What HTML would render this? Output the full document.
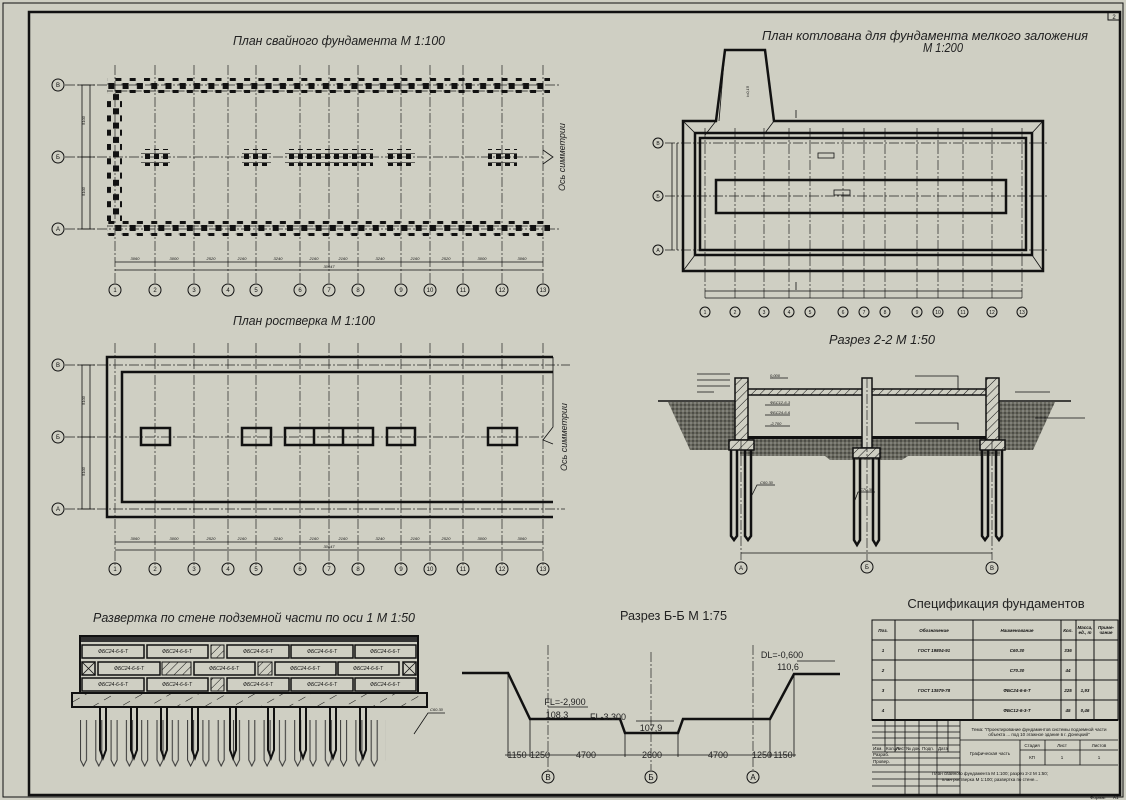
<!DOCTYPE html>
<html><head><meta charset="utf-8"><style>
html,body{margin:0;padding:0;background:#cfcfc3;}
svg{display:block;font-family:"Liberation Sans","DejaVu Sans",sans-serif;}
.t{font-style:italic;font-size:13px;fill:#222;}
.s{font-size:4px;fill:#111;font-style:italic;}
.ax{fill:none;stroke:#111;stroke-width:1;}
.c{fill:#111;font-size:6px;text-anchor:middle;}
.dd{stroke:#222;stroke-width:0.7;stroke-dasharray:10 2 2 2;fill:none;}
.tk{stroke:#111;stroke-width:2.5;fill:none;}
.th{stroke:#111;stroke-width:0.8;fill:none;}
</style></head><body>
<svg width="1126" height="800" viewBox="0 0 1126 800" xmlns="http://www.w3.org/2000/svg">
<defs>
<pattern id="pr" width="14.3" height="15" patternUnits="userSpaceOnUse">
<rect x="1" y="0" width="6" height="6" fill="#111"/><line x1="0" y1="1" x2="13" y2="1" stroke="#111" stroke-width="0.7"/>
<rect x="8.2" y="8" width="6" height="6" fill="#111"/><line x1="7" y1="9" x2="14" y2="9" stroke="#111" stroke-width="0.7"/>
</pattern>
<pattern id="pc" width="15" height="14.3" patternUnits="userSpaceOnUse">
<rect x="0" y="1" width="6" height="6" fill="#111"/><rect x="8" y="8.2" width="6" height="6" fill="#111"/>
</pattern>
<pattern id="cl" width="9" height="9" patternUnits="userSpaceOnUse">
<rect x="1" y="1" width="5" height="5" fill="#111"/><line x1="0" y1="0.5" x2="9" y2="0.5" stroke="#111" stroke-width="0.6"/>
</pattern>
<pattern id="soil" width="4" height="4" patternUnits="userSpaceOnUse">
<rect width="4" height="4" fill="#6a6a60"/><circle cx="1" cy="1" r="0.7" fill="#222"/><circle cx="3" cy="3" r="0.6" fill="#bbb"/>
</pattern>
<pattern id="hat" width="6" height="6" patternUnits="userSpaceOnUse" patternTransform="rotate(45)">
<rect width="6" height="6" fill="#cfcfc3"/><line x1="0" y1="0" x2="0" y2="6" stroke="#111" stroke-width="1"/>
</pattern>
<pattern id="hat2" width="14" height="14" patternUnits="userSpaceOnUse" patternTransform="rotate(60)">
<rect width="14" height="14" fill="#c6c6ba"/><line x1="0" y1="0" x2="0" y2="8" stroke="#111" stroke-width="1"/>
</pattern>
<pattern id="pl" width="15.3" height="60" patternUnits="userSpaceOnUse">
<path d="M4 0 V40 L7 46 L10 40 V0" fill="none" stroke="#333" stroke-width="1"/>
</pattern>
</defs>
<rect width="1126" height="800" fill="#cfcfc3"/>
<rect x="3" y="3" width="1120" height="794" fill="none" stroke="#111" stroke-width="1"/>
<rect x="29" y="12" width="1091" height="783" fill="none" stroke="#111" stroke-width="2.5"/>
<rect x="1108" y="12" width="12" height="8" fill="none" stroke="#111" stroke-width="1"/>
<text x="1114" y="19" class="c">2</text>

<!-- ============ PLAN 1 ============ -->
<text x="233" y="45" class="t" textLength="212" lengthAdjust="spacingAndGlyphs">План свайного фундамента М 1:100</text>
<g class="dd">
<path d="M115 65V285M155 65V285M194 65V285M228 65V285M256 65V285M300 65V285M329 65V285M358 65V285M401 65V285M430 65V285M463 65V285M502 65V285M543 65V285"/>
<path d="M65 85H560M65 157H545M65 229H560"/>
</g>
<rect x="107" y="78" width="443" height="15" fill="url(#pr)"/>
<rect x="107" y="221" width="443" height="15" fill="url(#pr)"/>
<rect x="107" y="93" width="15" height="128" fill="url(#pc)"/>
<g>
<rect x="141" y="149" width="29" height="17" fill="url(#cl)"/>
<rect x="242" y="149" width="29" height="17" fill="url(#cl)"/>
<rect x="285" y="149" width="88" height="17" fill="url(#cl)"/>
<rect x="387" y="149" width="28" height="17" fill="url(#cl)"/>
<rect x="488" y="149" width="29" height="17" fill="url(#cl)"/>
</g>
<path d="M543 150 L553 157 L543 164" class="th"/>
<text x="565" y="157" font-size="9" font-style="italic" fill="#222" transform="rotate(-90 565 157)" text-anchor="middle">Ось симметрии</text>
<g class="th"><path d="M82 85V229M90 85V229M78 85H95M78 157H95M78 229H95M115 262H543M115 270H543"/></g>
<text x="85" y="125" class="s" transform="rotate(-90 85 125)">5100</text>
<text x="85" y="196" class="s" transform="rotate(-90 85 196)">5100</text>
<g class="s" text-anchor="middle"><text x="135" y="260">3060</text><text x="174" y="260">3000</text><text x="211" y="260">2520</text><text x="242" y="260">2160</text><text x="278" y="260">3240</text><text x="314" y="260">2160</text><text x="343" y="260">2160</text><text x="380" y="260">3240</text><text x="415" y="260">2160</text><text x="446" y="260">2520</text><text x="482" y="260">3000</text><text x="522" y="260">3060</text><text x="329" y="268">30647</text></g>
<g class="ax"><circle cx="58" cy="85" r="6"/><circle cx="58" cy="157" r="6"/><circle cx="58" cy="229" r="6"/></g>
<g class="c"><text x="58" y="87">В</text><text x="58" y="159">Б</text><text x="58" y="231">А</text></g>
<g class="ax"><circle cx="115" cy="290" r="6"/><circle cx="155" cy="290" r="6"/><circle cx="194" cy="290" r="6"/><circle cx="228" cy="290" r="6"/><circle cx="256" cy="290" r="6"/><circle cx="300" cy="290" r="6"/><circle cx="329" cy="290" r="6"/><circle cx="358" cy="290" r="6"/><circle cx="401" cy="290" r="6"/><circle cx="430" cy="290" r="6"/><circle cx="463" cy="290" r="6"/><circle cx="502" cy="290" r="6"/><circle cx="543" cy="290" r="6"/></g>
<g class="c"><text x="115" y="292">1</text><text x="155" y="292">2</text><text x="194" y="292">3</text><text x="228" y="292">4</text><text x="256" y="292">5</text><text x="300" y="292">6</text><text x="329" y="292">7</text><text x="358" y="292">8</text><text x="401" y="292">9</text><text x="430" y="292">10</text><text x="463" y="292">11</text><text x="502" y="292">12</text><text x="543" y="292">13</text></g>

<!-- ============ PLAN 2 ============ -->
<text x="233" y="325" class="t" textLength="142" lengthAdjust="spacingAndGlyphs">План ростверка М 1:100</text>
<g class="dd">
<path d="M115 343V565M155 343V565M194 343V565M228 343V565M256 343V565M300 343V565M329 343V565M358 343V565M401 343V565M430 343V565M463 343V565M502 343V565M543 343V565"/>
<path d="M65 365H570M65 437H545M65 509H565"/>
</g>
<path d="M553 357H107V517H553M553 372H122V502H553" class="tk" stroke-width="2"/>
<g class="tk" stroke-width="3"><rect x="141" y="428" width="29" height="17"/><rect x="242" y="428" width="29" height="17"/><rect x="285" y="428" width="88" height="17"/><line x1="314" y1="428" x2="314" y2="445"/><line x1="343" y1="428" x2="343" y2="445"/><rect x="387" y="428" width="28" height="17"/><rect x="488" y="428" width="29" height="17"/></g>
<path d="M553 357V427L543 440L553 444" class="th"/>
<text x="567" y="437" font-size="9" font-style="italic" fill="#222" transform="rotate(-90 567 437)" text-anchor="middle">Ось симметрии</text>
<g class="th"><path d="M82 365V509M90 365V509M78 365H95M78 437H95M78 509H95M115 542H543M115 550H543"/></g>
<text x="85" y="405" class="s" transform="rotate(-90 85 405)">5100</text>
<text x="85" y="476" class="s" transform="rotate(-90 85 476)">5100</text>
<g class="s" text-anchor="middle"><text x="135" y="540">3060</text><text x="174" y="540">3000</text><text x="211" y="540">2520</text><text x="242" y="540">2160</text><text x="278" y="540">3240</text><text x="314" y="540">2160</text><text x="343" y="540">2160</text><text x="380" y="540">3240</text><text x="415" y="540">2160</text><text x="446" y="540">2520</text><text x="482" y="540">3000</text><text x="522" y="540">3060</text><text x="329" y="548">30647</text></g>
<g class="ax"><circle cx="58" cy="365" r="6"/><circle cx="58" cy="437" r="6"/><circle cx="58" cy="509" r="6"/></g>
<g class="c"><text x="58" y="367">В</text><text x="58" y="439">Б</text><text x="58" y="511">А</text></g>
<g class="ax"><circle cx="115" cy="569" r="6"/><circle cx="155" cy="569" r="6"/><circle cx="194" cy="569" r="6"/><circle cx="228" cy="569" r="6"/><circle cx="256" cy="569" r="6"/><circle cx="300" cy="569" r="6"/><circle cx="329" cy="569" r="6"/><circle cx="358" cy="569" r="6"/><circle cx="401" cy="569" r="6"/><circle cx="430" cy="569" r="6"/><circle cx="463" cy="569" r="6"/><circle cx="502" cy="569" r="6"/><circle cx="543" cy="569" r="6"/></g>
<g class="c"><text x="115" y="571">1</text><text x="155" y="571">2</text><text x="194" y="571">3</text><text x="228" y="571">4</text><text x="256" y="571">5</text><text x="300" y="571">6</text><text x="329" y="571">7</text><text x="358" y="571">8</text><text x="401" y="571">9</text><text x="430" y="571">10</text><text x="463" y="571">11</text><text x="502" y="571">12</text><text x="543" y="571">13</text></g>

<!-- ============ PIT PLAN ============ -->
<text x="762" y="40" class="t" textLength="326" lengthAdjust="spacingAndGlyphs">План котлована для фундамента мелкого заложения</text>
<text x="923" y="52" class="t" textLength="40" lengthAdjust="spacingAndGlyphs">М 1:200</text>
<g class="dd">
<path d="M705 128V300M735 128V300M764 128V300M789 128V300M810 128V300M843 128V300M864 128V300M885 128V300M917 128V300M938 128V300M963 128V300M992 128V300M1022 128V300"/>
<path d="M665 143H1048M665 196H1048M665 250H1048"/>
</g>
<path d="M683 121H716L725 50H765L774 121H1043V271H683Z" class="tk" stroke-width="2.5"/>
<path d="M716 121L705 135M774 121L765 133M725 50L719 121" class="th"/>
<rect x="695" y="133" width="337" height="122" class="tk" stroke-width="2"/>
<rect x="700" y="138" width="326" height="112" class="tk" stroke-width="2"/>
<rect x="716" y="180" width="290" height="33" class="tk" stroke-width="3"/>
<path d="M683 121L695 133M1043 121L1032 133M683 271L695 255M1043 271L1032 255" class="th"/>
<rect x="818" y="153" width="16" height="5" class="th"/><rect x="834" y="190" width="16" height="5" class="th"/>
<text x="742" y="100" class="s" transform="rotate(-90 744 95)">i=0,15</text>
<g class="th"><path d="M672 143V250M677 143V250"/></g>
<g class="ax"><circle cx="658" cy="143" r="5"/><circle cx="658" cy="196" r="5"/><circle cx="658" cy="250" r="5"/></g>
<g class="c" style="font-size:5px"><text x="658" y="145">В</text><text x="658" y="198">Б</text><text x="658" y="252">А</text></g>
<g class="th"><path d="M705 291H1022M705 298H1022"/></g>
<g class="ax"><circle cx="705" cy="312" r="5"/><circle cx="735" cy="312" r="5"/><circle cx="764" cy="312" r="5"/><circle cx="789" cy="312" r="5"/><circle cx="810" cy="312" r="5"/><circle cx="843" cy="312" r="5"/><circle cx="864" cy="312" r="5"/><circle cx="885" cy="312" r="5"/><circle cx="917" cy="312" r="5"/><circle cx="938" cy="312" r="5"/><circle cx="963" cy="312" r="5"/><circle cx="992" cy="312" r="5"/><circle cx="1022" cy="312" r="5"/></g>
<g class="c" style="font-size:5px"><text x="705" y="314">1</text><text x="735" y="314">2</text><text x="764" y="314">3</text><text x="789" y="314">4</text><text x="810" y="314">5</text><text x="843" y="314">6</text><text x="864" y="314">7</text><text x="885" y="314">8</text><text x="917" y="314">9</text><text x="938" y="314">10</text><text x="963" y="314">11</text><text x="992" y="314">12</text><text x="1022" y="314">13</text></g>
<path d="M796 110V118M796 282V290" class="th"/>

<!-- ============ SECTION 2-2 ============ -->
<text x="829" y="344" class="t" textLength="106" lengthAdjust="spacingAndGlyphs">Разрез 2-2 М 1:50</text>
<path d="M668 402L690 450H1033L1055 402Z" fill="url(#soil)"/>
<path d="M740 450H1000L1000 456H908L902 460H830L825 456H740Z" fill="url(#soil)"/>
<line x1="658" y1="401" x2="1071" y2="401" stroke="#111" stroke-width="1.5"/>
<rect x="748" y="395" width="240" height="43" fill="#cfcfc3"/>
<rect x="744" y="389" width="246" height="6" fill="url(#hat)" stroke="#111" stroke-width="1.5"/>
<rect x="748" y="436" width="240" height="3" fill="#111"/>
<rect x="735" y="378" width="13" height="62" fill="url(#hat)" stroke="#111" stroke-width="1.5"/>
<rect x="986" y="378" width="13" height="62" fill="url(#hat)" stroke="#111" stroke-width="1.5"/>
<rect x="862" y="378" width="10" height="70" fill="#cfcfc3" stroke="#111" stroke-width="1.5"/>
<rect x="729" y="440" width="25" height="10" fill="url(#hat)" stroke="#111" stroke-width="1.5"/>
<rect x="980" y="440" width="25" height="10" fill="url(#hat)" stroke="#111" stroke-width="1.5"/>
<rect x="853" y="448" width="27" height="10" fill="url(#hat)" stroke="#111" stroke-width="1.5"/>
<g class="tk" stroke-width="1.5">
<path d="M731 450V536L734 540L737 536V450M745 450V536L748 540L751 536V450"/>
<path d="M854 458V540L857 545L860 540V458M873 458V540L876 545L879 540V458"/>
<path d="M982 450V536L985 540L988 536V450M996 450V536L999 540L1002 536V450"/>
</g>
<path d="M741 440V560M867 378V560M992 440V560" class="dd"/>
<line x1="741" y1="553" x2="992" y2="553" class="th"/>
<g class="ax"><circle cx="741" cy="568" r="6"/><circle cx="867" cy="567" r="6"/><circle cx="992" cy="568" r="6"/></g>
<g class="c"><text x="741" y="570">А</text><text x="867" y="569">Б</text><text x="992" y="570">В</text></g>
<g class="th"><path d="M697 374H730M697 380H730M697 386H730M697 392H714M770 378H788M765 405H790M765 415H790M765 426H790M915 376H958V390M915 423H958V430M1015 392H1050M1035 418H1085M752 495L757 485H775M855 500L858 492H875"/></g>
<g class="s"><text x="770" y="377">0,000</text><text x="770" y="404">ФБС12-6-3</text><text x="770" y="414">ФБС24-6-6</text><text x="770" y="425">-2,700</text><text x="760" y="484">С60.30</text><text x="860" y="491">С70.30</text></g>

<!-- ============ WALL DEVELOPMENT ============ -->
<text x="93" y="622" class="t" textLength="322" lengthAdjust="spacingAndGlyphs">Развертка по стене подземной части по оси 1 М 1:50</text>
<rect x="80" y="636" width="338" height="57" fill="#cfcfc3" stroke="#111" stroke-width="2"/>
<rect x="81" y="637" width="336" height="5" fill="#333"/>
<g fill="none" stroke="#111" stroke-width="1.5">
<rect x="82" y="645" width="62" height="13"/><rect x="147" y="645" width="61" height="13"/><rect x="227" y="645" width="62" height="13"/><rect x="291" y="645" width="62" height="13"/><rect x="355" y="645" width="61" height="13"/>
<rect x="82" y="662" width="13" height="13"/><rect x="98" y="662" width="62" height="13"/><rect x="194" y="662" width="61" height="13"/><rect x="275" y="662" width="61" height="13"/><rect x="338" y="662" width="61" height="13"/><rect x="403" y="662" width="13" height="13"/>
<rect x="82" y="678" width="62" height="13"/><rect x="147" y="678" width="61" height="13"/><rect x="227" y="678" width="62" height="13"/><rect x="291" y="678" width="62" height="13"/><rect x="355" y="678" width="61" height="13"/>
</g>
<rect x="211" y="645" width="13" height="13" fill="url(#hat)" stroke="#111"/><rect x="162" y="662" width="29" height="13" fill="url(#hat)" stroke="#111"/><rect x="258" y="662" width="14" height="13" fill="url(#hat)" stroke="#111"/><rect x="211" y="678" width="13" height="13" fill="url(#hat)" stroke="#111"/>
<path d="M82 662L95 675M95 662L82 675M403 662L416 675M416 662L403 675" class="th"/>
<g font-size="5" font-style="italic" fill="#111" text-anchor="middle">
<text x="113" y="653">ФБС24-6-6-Т</text><text x="177" y="653">ФБС24-6-6-Т</text><text x="258" y="653">ФБС24-6-6-Т</text><text x="322" y="653">ФБС24-6-6-Т</text><text x="385" y="653">ФБС24-6-6-Т</text>
<text x="129" y="670">ФБС24-6-6-Т</text><text x="224" y="670">ФБС24-6-6-Т</text><text x="305" y="670">ФБС24-6-6-Т</text><text x="368" y="670">ФБС24-6-6-Т</text>
<text x="113" y="686">ФБС24-6-6-Т</text><text x="177" y="686">ФБС24-6-6-Т</text><text x="258" y="686">ФБС24-6-6-Т</text><text x="322" y="686">ФБС24-6-6-Т</text><text x="385" y="686">ФБС24-6-6-Т</text>
</g>
<rect x="72" y="693" width="355" height="14" fill="url(#hat2)" stroke="#111" stroke-width="2"/>
<rect x="80" y="707" width="306" height="60" fill="url(#pl)"/>
<g stroke="#111" stroke-width="2" fill="none"><path d="M100 707V750L103 758L106 750V707M131 707V750L134 758L137 750V707M161 707V750L164 758L167 750V707M192 707V750L195 758L198 750V707M230 707V750L233 758L236 750V707M268 707V750L271 758L274 750V707M300 707V750L303 758L306 750V707M330 707V750L333 758L336 750V707M360 707V750L363 758L366 750V707"/></g>
<path d="M414 734L428 713H445" class="th"/><text x="430" y="711" class="s">С60.30</text>

<!-- ============ SECTION Б-Б ============ -->
<text x="620" y="620" font-size="13" fill="#222" textLength="107" lengthAdjust="spacingAndGlyphs">Разрез Б-Б М 1:75</text>
<path d="M462 673H508L530 719H620L625 733H678L683 719H770L794 674H840" fill="none" stroke="#111" stroke-width="2.5"/>
<path d="M548 645V770M651 652V770M753 645V770" class="dd"/>
<path d="M508 673V757M530 719V757M625 733V757M678 733V757M770 719V757M794 674V757M505 755H796" class="th"/>
<g font-size="9" fill="#222" text-anchor="middle">
<text x="517" y="758">1150</text><text x="540" y="758">1250</text><text x="586" y="758">4700</text><text x="652" y="758">2600</text><text x="718" y="758">4700</text><text x="762" y="758">1250</text><text x="783" y="758">1150</text>
<text x="565" y="705">FL=-2,900</text><text x="557" y="718">108,3</text><text x="608" y="720">FL-3.300</text><text x="651" y="731">107,9</text><text x="782" y="658">DL=-0,600</text><text x="788" y="670">110,6</text>
</g>
<path d="M548 707H588M636 721H674M797 661H835" class="th"/>
<g class="ax"><circle cx="548" cy="777" r="6"/><circle cx="651" cy="777" r="6"/><circle cx="753" cy="777" r="6"/></g>
<g class="c" style="font-size:8px"><text x="548" y="780">В</text><text x="651" y="780">Б</text><text x="753" y="780">А</text></g>

<!-- ============ SPEC TABLE ============ -->
<text x="996" y="608" font-size="13" fill="#222" text-anchor="middle">Спецификация фундаментов</text>
<g fill="none" stroke="#111" stroke-width="1">
<rect x="872" y="620" width="246" height="100"/>
<path d="M895 620V720M973 620V720M1061 620V720M1076 620V720M1094 620V720M872 640H1118M872 660H1118M872 680H1118M872 700H1118"/>
</g>
<line x1="872" y1="720" x2="1118" y2="720" stroke="#111" stroke-width="2"/>
<g font-size="4.5" font-style="italic" font-weight="bold" fill="#111" text-anchor="middle">
<text x="883" y="632">Поз.</text><text x="934" y="632">Обозначение</text><text x="1017" y="632">Наименование</text><text x="1068" y="632">Кол.</text><text x="1085" y="629">Масса,</text><text x="1085" y="634">ед., т</text><text x="1106" y="629">Приме-</text><text x="1106" y="634">чание</text>
<text x="883" y="652">1</text><text x="934" y="652">ГОСТ 19804-91</text><text x="1017" y="652">С60.30</text><text x="1068" y="652">336</text>
<text x="883" y="672">2</text><text x="1017" y="672">С70.30</text><text x="1068" y="672">44</text>
<text x="883" y="692">3</text><text x="934" y="692">ГОСТ 13579-78</text><text x="1017" y="692">ФБС24-6-6-Т</text><text x="1068" y="692">225</text><text x="1085" y="692">1,93</text>
<text x="883" y="712">4</text><text x="1017" y="712">ФБС12-6-3-Т</text><text x="1068" y="712">45</text><text x="1085" y="712">0,46</text>
</g>
<g fill="none" stroke="#111" stroke-width="0.8">
<path d="M872 726H960M872 732H960M872 738H960M872 745H960M872 752H960M872 758H960M872 765H960M872 772H960M872 779H960M872 786H960M885 720V752M895 720V752M905 720V795M919 720V795M937 720V795M948 720V752M960 720V795M960 740H1118M960 765H1118M1020 740V795M1045 740V765M1080 740V765M1020 750H1118"/>
</g>
<g font-size="4.5" fill="#111">
<text x="873" y="750">Изм.</text><text x="886" y="750">Кол.уч</text><text x="896" y="750">Лист</text><text x="906" y="750">№ док.</text><text x="922" y="750">Подп.</text><text x="938" y="750">Дата</text>
<text x="873" y="756">Разраб.</text><text x="873" y="763">Провер.</text>
<text x="1039" y="731" text-anchor="middle">Тема: "Проектирование фундаментов системы подземной части</text>
<text x="1039" y="736" text-anchor="middle">объекта ... под 10 этажное здание в г. Донецкий"</text>
<text x="990" y="755" text-anchor="middle">Графическая часть</text>
<text x="1032" y="747" text-anchor="middle">Стадия</text><text x="1062" y="747" text-anchor="middle">Лист</text><text x="1099" y="747" text-anchor="middle">Листов</text>
<text x="1032" y="759" text-anchor="middle">КП</text><text x="1062" y="759" text-anchor="middle">1</text><text x="1099" y="759" text-anchor="middle">1</text>
<text x="990" y="775" text-anchor="middle">План свайного фундамента М 1:100; разрез 2-2 М 1:50;</text>
<text x="990" y="781" text-anchor="middle">план ростверка М 1:100; развертка по стене...</text>
<text x="1090" y="799">Формат</text><text x="1113" y="799">А1</text>
</g>
</svg>
</body></html>
